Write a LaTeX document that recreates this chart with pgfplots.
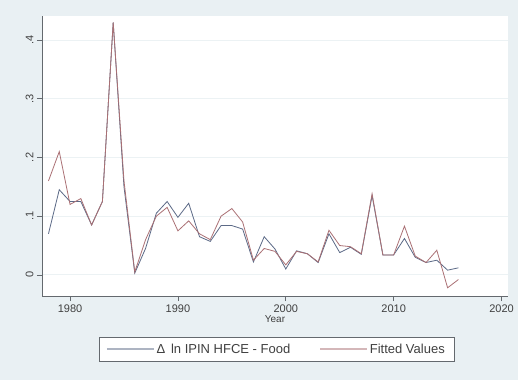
\documentclass[border=0pt]{standalone}
\usepackage{pgfplots}
\pgfplotsset{compat=1.18}
\usepackage{pgfplotstable}
\usepackage{fontspec}
\setmainfont{Liberation Sans}

\definecolor{bgcol}{RGB}{233,240,243}
\definecolor{gridcol}{RGB}{236,242,244}
\definecolor{actcol}{RGB}{92,106,135}
\definecolor{fitcol}{RGB}{170,112,116}
\definecolor{axcol}{RGB}{100,105,110}

% year, actual change, fitted value
\pgfplotstableread{
year actual fitted
1978 0.070 0.160
1979 0.145 0.210
1980 0.125 0.120
1981 0.125 0.130
1982 0.085 0.085
1983 0.125 0.125
1984 0.430 0.430
1985 0.150 0.160
1986 0.003 0.005
1987 0.045 0.060
1988 0.105 0.100
1989 0.125 0.115
1990 0.098 0.075
1991 0.122 0.092
1992 0.065 0.070
1993 0.057 0.060
1994 0.084 0.100
1995 0.084 0.113
1996 0.078 0.090
1997 0.022 0.025
1998 0.065 0.045
1999 0.044 0.040
2000 0.010 0.017
2001 0.041 0.040
2002 0.036 0.036
2003 0.021 0.022
2004 0.070 0.076
2005 0.038 0.050
2006 0.047 0.048
2007 0.035 0.036
2008 0.135 0.138
2009 0.034 0.034
2010 0.034 0.034
2011 0.062 0.083
2012 0.030 0.032
2013 0.021 0.021
2014 0.025 0.042
2015 0.008 -0.022
2016 0.012 -0.008
}\foodtab

\begin{document}
\begin{tikzpicture}
% graph region
\fill[bgcol] (-42pt,-84pt) rectangle (476pt,296pt);
\begin{axis}[
    scale only axis,
    width=466pt, height=280pt,
    at={(0,0)}, anchor=south west,
    axis background/.style={fill=white},
    xmin=1977.4, xmax=2020.6,
    ymin=-0.036, ymax=0.441,
    axis x line*=bottom, axis y line*=left,
    axis line style={axcol, line width=0.6pt},
    every tick/.style={axcol, line width=0.6pt},
    tick align=outside, major tick length=5pt,
    xtick={1980,1990,2000,2010,2020},
    xticklabel style={/pgf/number format/1000 sep={}},
    ytick={0,0.1,0.2,0.3,0.4},
    yticklabels={0,.1,.2,.3,.4},
    yticklabel style={rotate=90, anchor=south},
    ymajorgrids, grid style={gridcol, line width=0.8pt},
    tick label style={font=\fontsize{11}{12}\selectfont, text=black!75},
    /pgf/number format/assume math mode=true,
    xlabel={Year},
    xlabel style={font=\fontsize{10}{11}\selectfont, text=black!75, yshift=4pt},
    legend columns=2,
    legend style={at={(axis description cs:0.503,0)}, anchor=north, yshift=-41pt,
        draw=axcol, fill=white, font=\fontsize{13}{15}\selectfont, text=black!75,
        inner xsep=7pt, inner ysep=4.5pt,
        /tikz/every even column/.append style={column sep=27pt}},
    legend image code/.code={\draw[#1, line width=1.6pt, opacity=0.5] (0pt,0pt) -- (47pt,0pt);},
]
\addplot[actcol, line width=0.8pt] table[x=year, y=actual] {\foodtab};
\addlegendentry{Δ \,ln IPIN HFCE - Food}
\addplot[fitcol, line width=0.8pt] table[x=year, y=fitted] {\foodtab};
\addlegendentry{Fitted Values}
\end{axis}
\end{tikzpicture}
\end{document}
